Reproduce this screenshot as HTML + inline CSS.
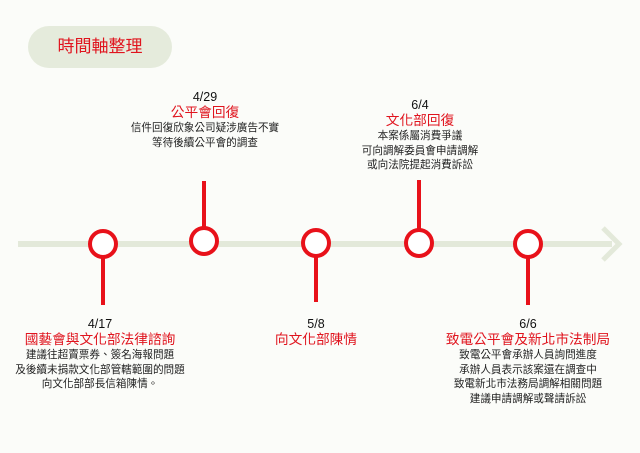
<!DOCTYPE html>
<html><head><meta charset="utf-8"><style>
body{margin:0;width:640px;height:453px;background:#fbfcf9;position:relative;overflow:hidden;font-family:"Liberation Sans","Noto Sans CJK TC",sans-serif}
.pill{position:absolute;left:28px;top:26px;width:144px;height:42px;border-radius:21px;background:#e5ebdc;color:#e0141e;font-size:17px;line-height:42px;text-align:center}
.t{position:absolute;text-align:center;width:240px;white-space:nowrap}
.d{font-size:12.5px;color:#111;line-height:15px}
.h{font-size:13.7px;color:#e0141e;line-height:16px}
.b{font-size:10.6px;color:#222;line-height:14.5px}
</style></head><body>
<div class="pill">時間軸整理</div>
<svg width="640" height="453" style="position:absolute;left:0;top:0">
<line x1="18" y1="244" x2="612" y2="244" stroke="#e3e9da" stroke-width="6"/>
<polyline points="603,228 619,244 603,260" fill="none" stroke="#e3e9da" stroke-width="5"/>
<g stroke="#e8111a" stroke-width="4" fill="#fff">
<line x1="103" y1="257" x2="103" y2="305"/>
<line x1="204" y1="181" x2="204" y2="231"/>
<line x1="316" y1="257" x2="316" y2="302"/>
<line x1="419" y1="180" x2="419" y2="231"/>
<line x1="528" y1="257" x2="528" y2="305"/>
<circle cx="103" cy="244" r="13"/>
<circle cx="204" cy="241" r="13"/>
<circle cx="316" cy="243" r="13"/>
<circle cx="419" cy="243" r="13"/>
<circle cx="528" cy="244" r="13"/>
</g></svg>
<div class="t" style="left:85px;top:90px"><div class="d">4/29</div><div class="h">公平會回復</div><div class="b">信件回復欣象公司疑涉廣告不實<br>等待後續公平會的調查</div></div>
<div class="t" style="left:300px;top:98px"><div class="d">6/4</div><div class="h">文化部回復</div><div class="b">本案係屬消費爭議<br>可向調解委員會申請調解<br>或向法院提起消費訴訟</div></div>
<div class="t" style="left:-20px;top:317px"><div class="d">4/17</div><div class="h">國藝會與文化部法律諮詢</div><div class="b">建議往超賣票券、簽名海報問題<br>及後續未捐款文化部管轄範圍的問題<br>向文化部部長信箱陳情。</div></div>
<div class="t" style="left:196px;top:317px"><div class="d">5/8</div><div class="h">向文化部陳情</div></div>
<div class="t" style="left:408px;top:317px"><div class="d">6/6</div><div class="h">致電公平會及新北市法制局</div><div class="b">致電公平會承辦人員詢問進度<br>承辦人員表示該案還在調查中<br>致電新北市法務局調解相關問題<br>建議申請調解或聲請訴訟</div></div>
</body></html>
